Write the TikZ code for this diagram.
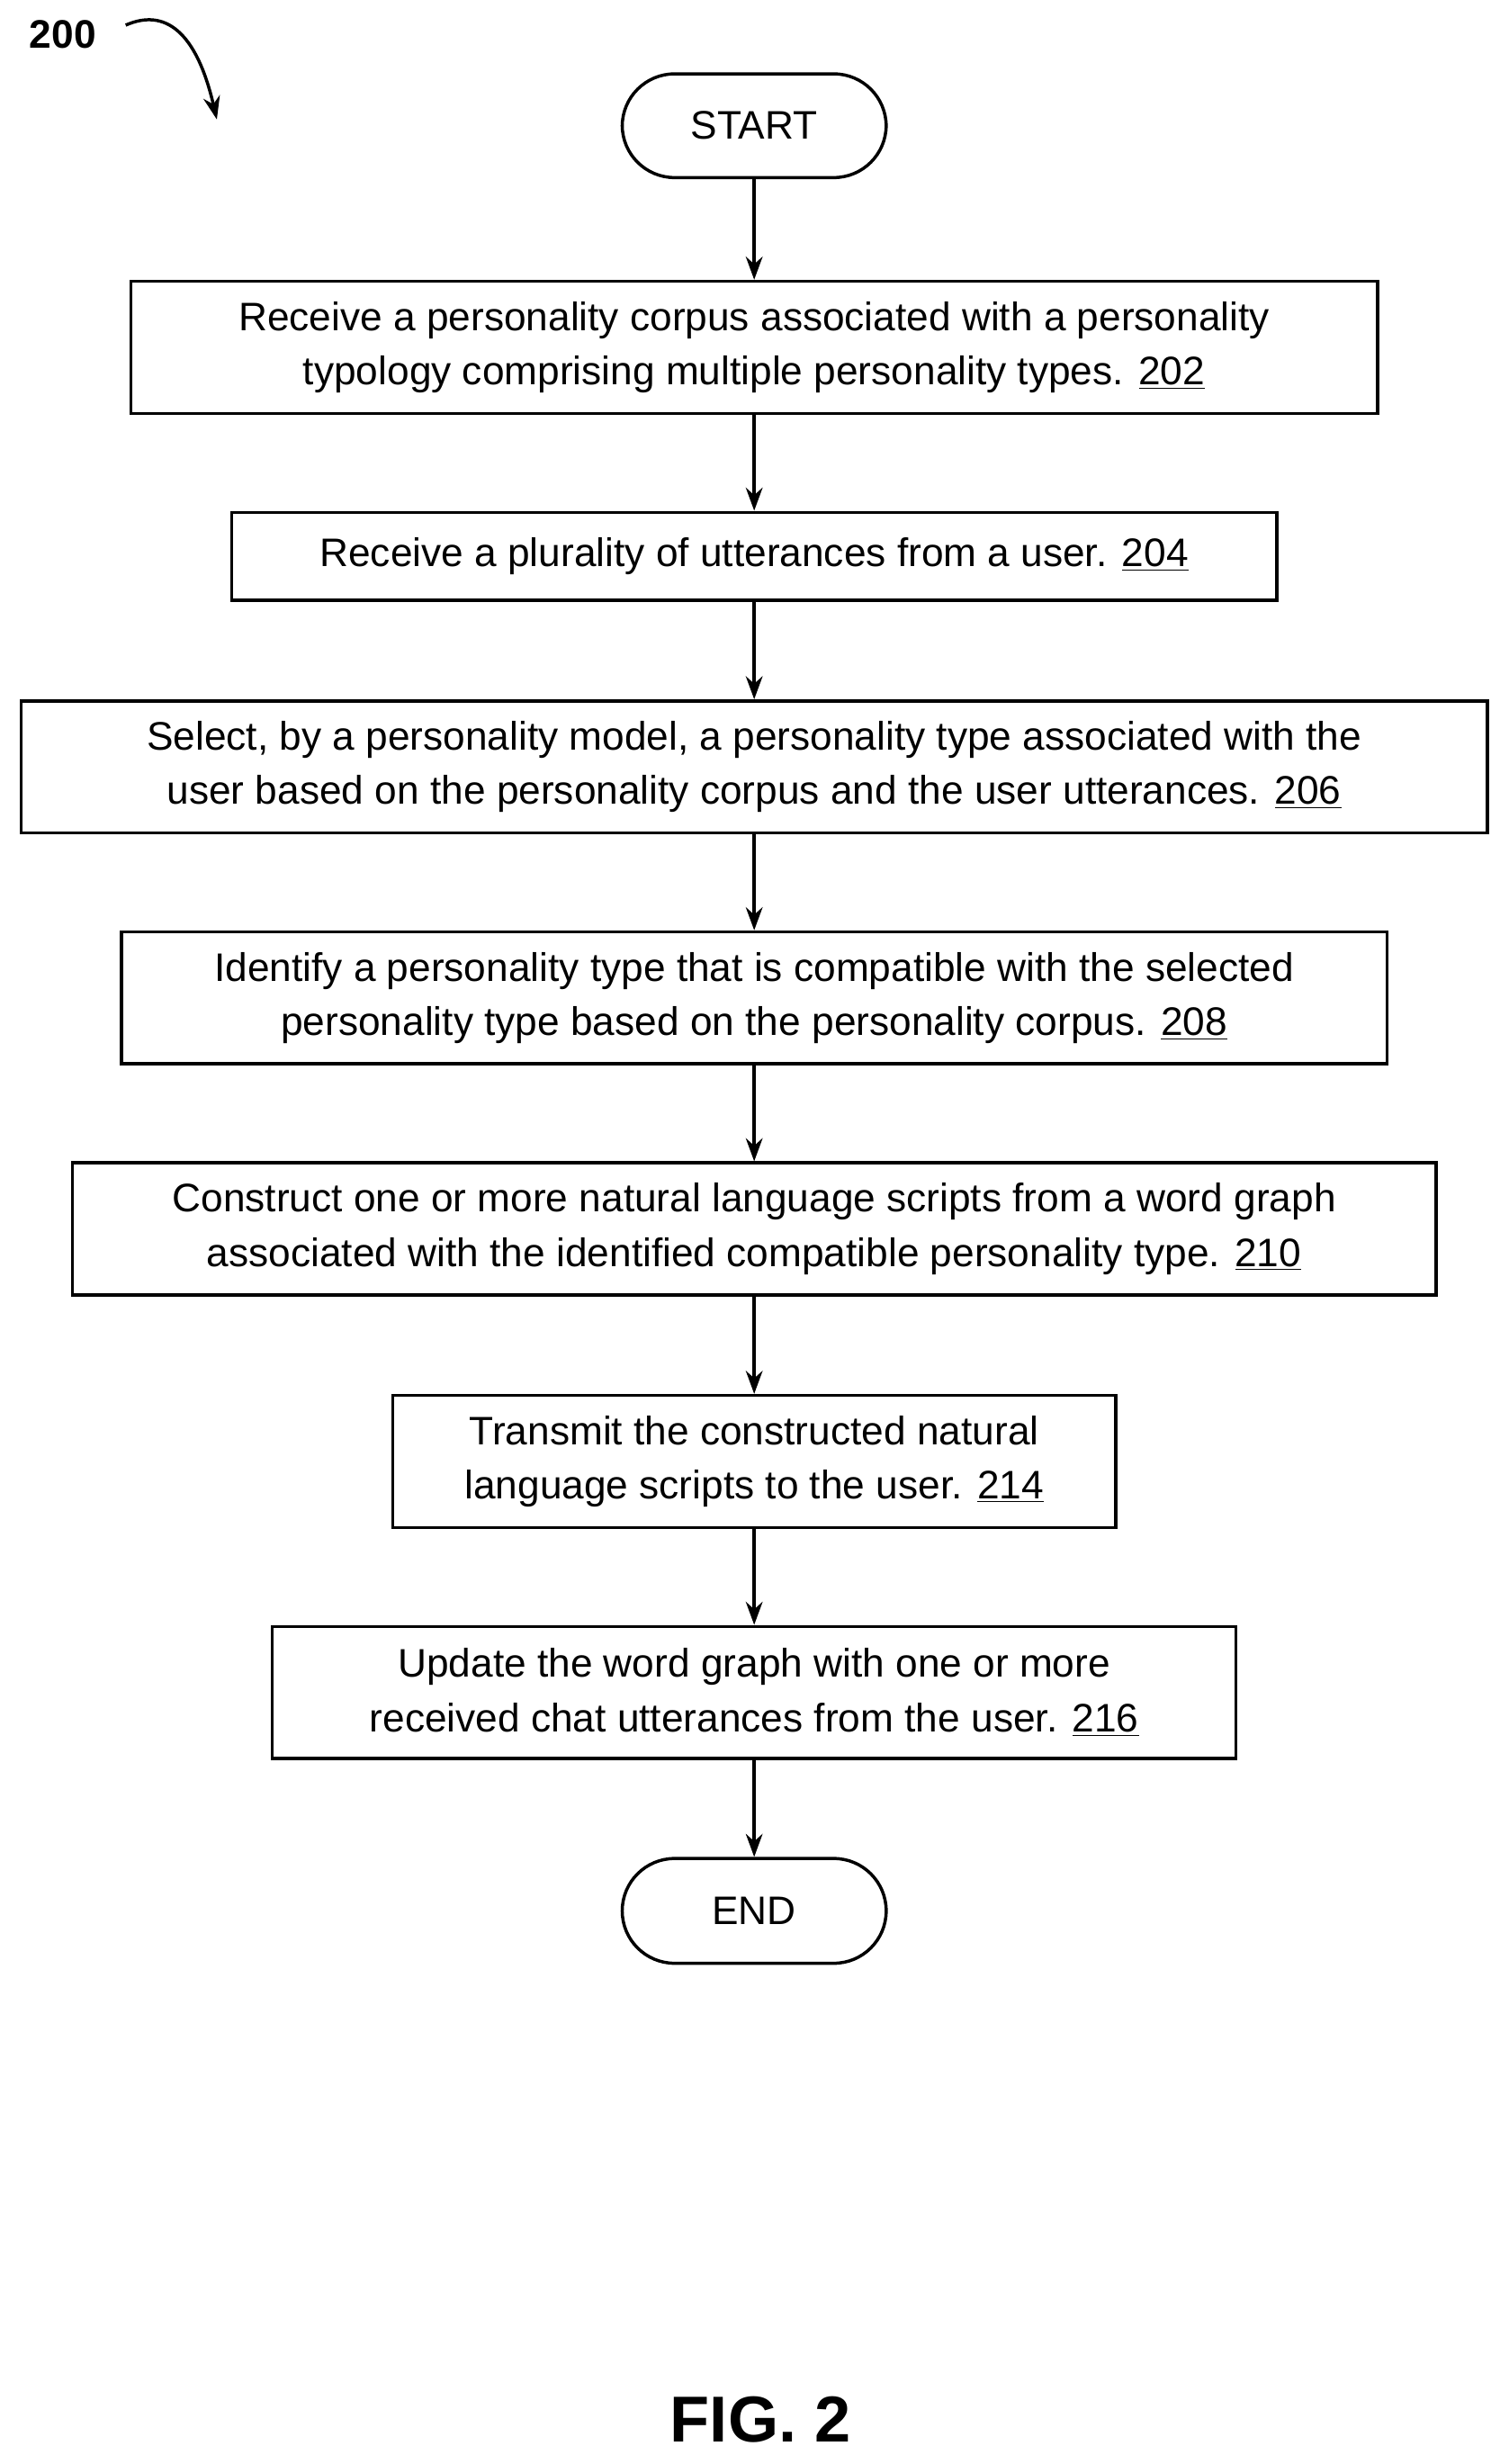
\documentclass[tikz,border=0pt]{standalone}
\usepackage{fontspec}
\setmainfont{Liberation Sans}
\usetikzlibrary{arrows.meta}
\tikzset{every picture/.style={line width=1.5pt}}
\tikzset{
  flowbox/.style={draw, line width=1.5pt, align=center, inner sep=0pt, font=\fontsize{19}{26}\selectfont},
  term/.style={flowbox, rounded corners=25pt},
  flow/.style={-{Stealth[length=11pt,width=8pt]}, line width=1.5pt}
}
\begin{document}
\begin{tikzpicture}[x=0.75pt,y=0.75pt,yscale=-1,xscale=1]
\useasboundingbox (0,0) rectangle (960,1568);

% Label
\draw (40,22) node [font=\bfseries\fontsize{19}{22}\selectfont] (lbl) {200};
\coordinate (lblend) at (138,76);
\draw [flow] (80,16) .. controls (105,5) and (125,20) .. (lblend);

% Terminals and steps
\draw (480,80) node [term, minimum width=126pt, minimum height=49.5pt] (start) {START};
\draw (480,221) node [flowbox, minimum width=595pt, minimum height=63pt] (s202) {Receive a personality corpus associated with a personality\\typology comprising multiple personality types. \underline{202}};
\draw (480,354) node [flowbox, minimum width=499pt, minimum height=42pt] (s204) {Receive a plurality of utterances from a user. \underline{204}};
\draw (480,488) node [flowbox, minimum width=700pt, minimum height=63pt] (s206) {Select, by a personality model, a personality type associated with the\\user based on the personality corpus and the user utterances. \underline{206}};
\draw (480,635) node [flowbox, minimum width=604pt, minimum height=63pt] (s208) {Identify a personality type that is compatible with the selected\\personality type based on the personality corpus. \underline{208}};
\draw (480,782) node [flowbox, minimum width=651pt, minimum height=63pt] (s210) {Construct one or more natural language scripts from a word graph\\associated with the identified compatible personality type. \underline{210}};
\draw (480,930) node [flowbox, minimum width=345pt, minimum height=63pt] (s214) {Transmit the constructed natural\\language scripts to the user. \underline{214}};
\draw (480,1077) node [flowbox, minimum width=460pt, minimum height=63pt] (s216) {Update the word graph with one or more\\received chat utterances from the user. \underline{216}};
\draw (480,1216) node [term, minimum width=126pt, minimum height=50pt] (end) {END};

% Connectors
\draw [flow] (start) -- (s202);
\draw [flow] (s202) -- (s204);
\draw [flow] (s204) -- (s206);
\draw [flow] (s206) -- (s208);
\draw [flow] (s208) -- (s210);
\draw [flow] (s210) -- (s214);
\draw [flow] (s214) -- (s216);
\draw [flow] (s216) -- (end);

% Figure caption
\draw (484,1540) node [font=\bfseries\fontsize{31}{36}\selectfont] (fig) {FIG. 2};

\end{tikzpicture}
\end{document}
